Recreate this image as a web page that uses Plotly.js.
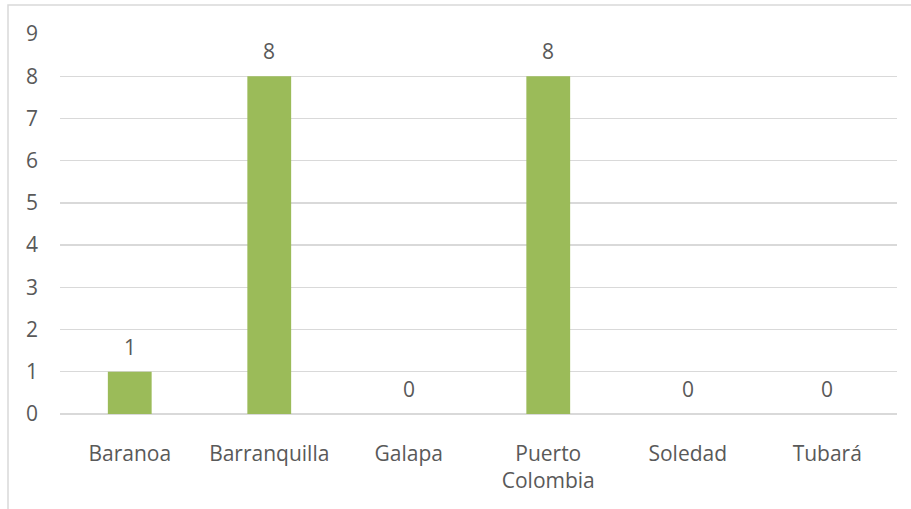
<!DOCTYPE html>
<html>
<head>
<meta charset="utf-8">
<script src="https://cdn.plot.ly/plotly-3.0.1.min.js"></script>
<style>
html,body{margin:0;padding:0;background:#fff;}
#chart{width:911px;height:509px;}
</style>
</head>
<body>
<div id="chart"></div>
<script>
var categories = ["Baranoa", "Barranquilla", "Galapa", "Puerto<br>Colombia", "Soledad", "Tubará"];
var values = [1, 8, 0, 8, 0, 0];
var yTicks = [0, 1, 2, 3, 4, 5, 6, 7, 8, 9];

var textColor = "#595959";
var fontFamily = "'Open Sans', 'Noto Sans', sans-serif";

var trace = {
  type: "bar",
  x: categories,
  y: values,
  marker: {color: "#9BBB59"},
  hoverinfo: "none"
};

var annotations = categories.map(function (c, i) {
  return {
    x: c, y: values[i], xref: "x", yref: "y",
    text: String(values[i]), showarrow: false,
    yanchor: "bottom", yshift: 9,
    font: {family: fontFamily, size: 21, color: textColor}
  };
});

var L = 60, R = 897, T = 34, B = 414;
var pw = R - L, ph = B - T;

var layout = {
  width: 911, height: 509,
  margin: {l: L, r: 911 - R, t: T, b: 509 - B, pad: 0},
  paper_bgcolor: "#ffffff",
  plot_bgcolor: "#ffffff",
  showlegend: false,
  bargap: 0.686,
  font: {family: fontFamily, size: 21, color: textColor},
  xaxis: {
    type: "category",
    showgrid: false, zeroline: false, showline: false,
    ticks: "", ticklabelstandoff: 25,
    tickfont: {family: fontFamily, size: 21, color: textColor}
  },
  yaxis: {
    range: [0, 9],
    tickvals: yTicks,
    showgrid: true, gridcolor: "#D9D9D9", gridwidth: 1.3,
    zeroline: true, zerolinecolor: "#D9D9D9", zerolinewidth: 1.3,
    showline: false, ticks: "", ticklabelstandoff: 21,
    tickfont: {family: fontFamily, size: 21, color: textColor}
  },
  annotations: annotations,
  shapes: [{
    type: "rect", xref: "paper", yref: "paper", layer: "below",
    x0: (8 - L) / pw, x1: (930 - L) / pw,
    y0: (B - 530) / ph, y1: (B - 5) / ph,
    line: {color: "#D9D9D9", width: 1.5},
    fillcolor: "rgba(0,0,0,0)"
  }]
};

Plotly.newPlot("chart", [trace], layout, {displayModeBar: false, staticPlot: true});
</script>
</body>
</html>
